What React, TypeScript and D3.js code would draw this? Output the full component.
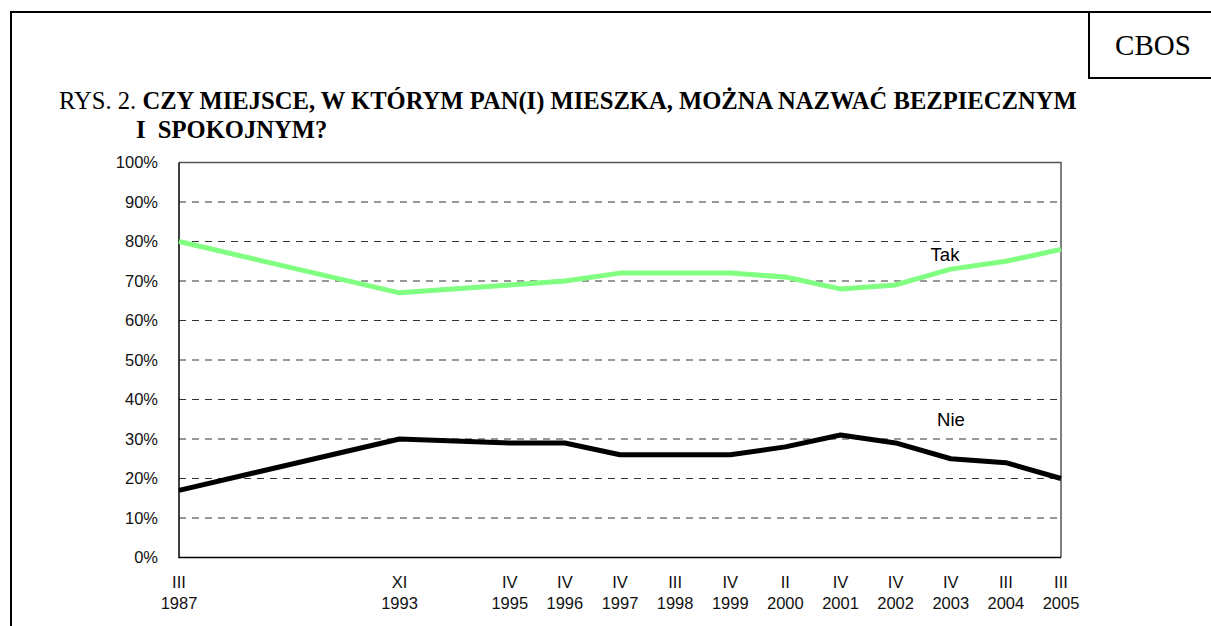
import React, { useEffect, useRef } from 'react';
import * as d3 from 'd3';

// survey waves (blank slots keep the category spacing of the original axis)
const months = ['III', '', '', '', 'XI', '', 'IV', 'IV', 'IV', 'III', 'IV', 'II', 'IV', 'IV', 'IV', 'III', 'III'];
const years = ['1987', '', '', '', '1993', '', '1995', '1996', '1997', '1998', '1999', '2000', '2001', '2002', '2003', '2004', '2005'];
const tak = [80, null, null, null, 67, null, 69, 70, 72, 72, 72, 71, 68, 69, 73, 75, 78];
const nie = [17, null, null, null, 30, null, 29, 29, 26, 26, 26, 28, 31, 29, 25, 24, 20];
const yTicks = [0, 10, 20, 30, 40, 50, 60, 70, 80, 90, 100];

const App = () => {
  const svgRef = useRef(null);

  useEffect(() => {
    const width = 1211;
    const height = 626;
    const plot = { left: 179, right: 1061, top: 162.5, bottom: 557.5 };

    const svg = d3.select(svgRef.current)
      .attr('width', width)
      .attr('height', height);

    svg.selectAll('*').remove();

    // outer frame and CBOS box
    svg.append('path')
      .attr('d', `M11,${height} L11,12 L${width},12`)
      .attr('fill', 'none')
      .attr('stroke', '#000')
      .attr('stroke-width', 2);
    svg.append('path')
      .attr('d', `M1089,12 L1089,78 L${width},78`)
      .attr('fill', 'none')
      .attr('stroke', '#000')
      .attr('stroke-width', 2);
    svg.append('text')
      .attr('x', 1153)
      .attr('y', 55)
      .attr('text-anchor', 'middle')
      .attr('font-family', '"Liberation Serif", "Times New Roman", serif')
      .attr('font-size', 29)
      .text('CBOS');

    // title
    const title = svg.append('text')
      .attr('x', 59)
      .attr('y', 109)
      .attr('font-family', '"Liberation Serif", "Times New Roman", serif')
      .attr('font-size', 24.6);
    title.append('tspan').text('RYS. 2. ');
    title.append('tspan')
      .attr('font-weight', 'bold')
      .text('CZY MIEJSCE, W KTÓRYM PAN(I) MIESZKA, MOŻNA NAZWAĆ BEZPIECZNYM');
    svg.append('text')
      .attr('x', 136)
      .attr('y', 138)
      .attr('font-family', '"Liberation Serif", "Times New Roman", serif')
      .attr('font-size', 24.6)
      .attr('font-weight', 'bold')
      .style('white-space', 'pre')
      .text('I  SPOKOJNYM?');

    const idx = d3.range(years.length);
    const xScale = d3.scalePoint()
      .domain(idx)
      .range([plot.left, plot.right]);

    const yScale = d3.scaleLinear()
      .domain([0, 100])
      .range([plot.bottom, plot.top]);

    // dashed gridlines
    svg.append('g')
      .selectAll('line')
      .data(yTicks.filter(t => t > 0 && t < 100))
      .enter()
      .append('line')
      .attr('x1', plot.left)
      .attr('x2', plot.right)
      .attr('y1', d => yScale(d))
      .attr('y2', d => yScale(d))
      .attr('stroke', '#333')
      .attr('stroke-width', 1)
      .attr('stroke-dasharray', '7,6');

    // plot border (top/right gray, axes black)
    svg.append('path')
      .attr('d', `M${plot.left},${plot.top} L${plot.right},${plot.top} L${plot.right},${plot.bottom}`)
      .attr('fill', 'none')
      .attr('stroke', '#555')
      .attr('stroke-width', 1.5);
    svg.append('path')
      .attr('d', `M${plot.left},${plot.top} L${plot.left},${plot.bottom} L${plot.right},${plot.bottom}`)
      .attr('fill', 'none')
      .attr('stroke', '#000')
      .attr('stroke-width', 1.5);

    // y tick labels
    svg.append('g')
      .selectAll('text')
      .data(yTicks)
      .enter()
      .append('text')
      .attr('x', 158)
      .attr('y', d => yScale(d))
      .attr('dy', '0.36em')
      .attr('text-anchor', 'end')
      .attr('font-family', '"Liberation Sans", Arial, sans-serif')
      .attr('font-size', 16.5)
      .attr('fill', '#111')
      .text(d => `${d}%`);

    // x labels
    const xl = svg.append('g')
      .attr('font-family', '"Liberation Sans", Arial, sans-serif')
      .attr('font-size', 16.5)
      .attr('fill', '#111')
      .attr('text-anchor', 'middle');
    xl.selectAll('.m')
      .data(idx.filter(i => months[i] !== ''))
      .enter()
      .append('text')
      .attr('class', 'm')
      .attr('x', i => xScale(i))
      .attr('y', 588)
      .text(i => months[i]);
    xl.selectAll('.yr')
      .data(idx.filter(i => years[i] !== ''))
      .enter()
      .append('text')
      .attr('class', 'yr')
      .attr('x', i => xScale(i))
      .attr('y', 609)
      .text(i => years[i]);

    // series lines
    const line = d3.line()
      .x(d => xScale(d[0]))
      .y(d => yScale(d[1]));

    const series = [
      { values: tak, color: '#80ff80' },
      { values: nie, color: '#000000' },
    ];
    series.forEach(s => {
      const pts = idx.filter(i => s.values[i] != null).map(i => [i, s.values[i]]);
      svg.append('path')
        .datum(pts)
        .attr('d', line)
        .attr('fill', 'none')
        .attr('stroke', s.color)
        .attr('stroke-width', 5)
        .attr('stroke-linejoin', 'round');
    });

    // series labels
    svg.append('text')
      .attr('x', 945)
      .attr('y', 261)
      .attr('text-anchor', 'middle')
      .attr('font-family', '"Liberation Sans", Arial, sans-serif')
      .attr('font-size', 18.5)
      .text('Tak');
    svg.append('text')
      .attr('x', 951)
      .attr('y', 426)
      .attr('text-anchor', 'middle')
      .attr('font-family', '"Liberation Sans", Arial, sans-serif')
      .attr('font-size', 18.5)
      .text('Nie');
  }, []);

  return (
    <svg ref={svgRef} width={1211} height={626} style={{ position: 'absolute', left: 0, top: 0, background: '#fff' }}></svg>
  );
};

export default App;
